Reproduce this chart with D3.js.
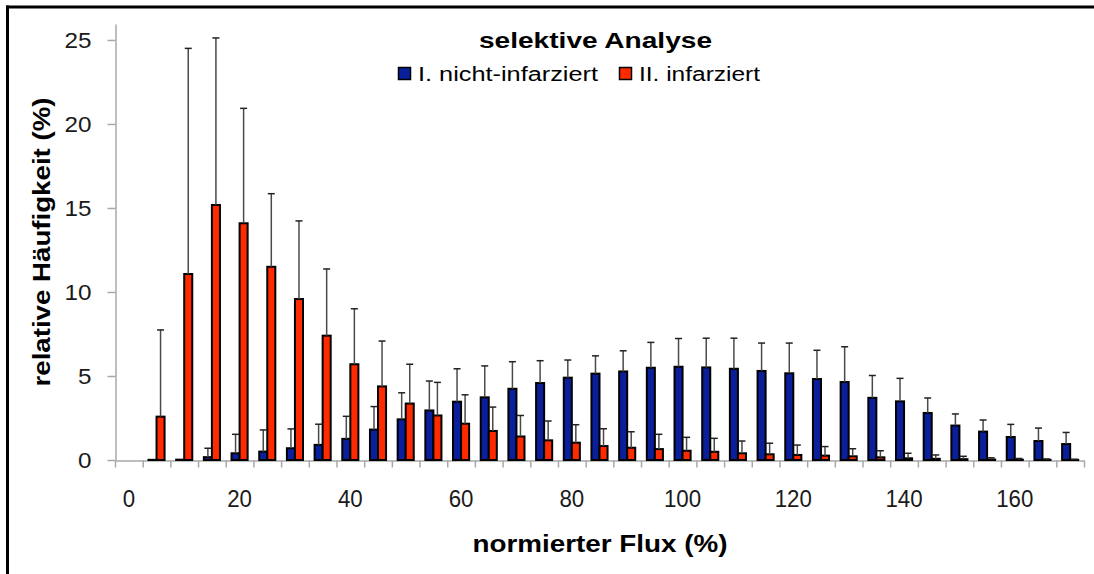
<!DOCTYPE html>
<html>
<head>
<meta charset="utf-8">
<script src="https://cdn.jsdelivr.net/npm/d3@7"></script>
<style>
body { margin: 0; background: #fff; }
text { font-family: "Liberation Sans", Arial, sans-serif; }
</style>
</head>
<body>
<div id="chart"></div>
<script>
// normierter Flux (%) classes
var categories = [0, 5, 10, 15, 20, 25, 30, 35, 40, 45, 50, 55, 60, 65, 70, 75, 80, 85,
    90, 95, 100, 105, 110, 115, 120, 125, 130, 135, 140, 145, 150, 155, 160, 165, 170];

// I. nicht-infarziert
var blueMean = [0, 0.01, 0.02, 0.17, 0.4, 0.5, 0.7, 0.9, 1.26, 1.81, 2.42, 2.95, 3.47, 3.73, 4.24, 4.58, 4.9, 5.14,
    5.27, 5.49, 5.55, 5.51, 5.43, 5.3, 5.16, 4.82, 4.64, 3.7, 3.49, 2.8, 2.05, 1.69, 1.37, 1.13, 0.95];
var blueSD = [0, 0, 0, 0.53, 1.13, 1.29, 1.15, 1.23, 1.34, 1.37, 1.58, 1.75, 1.96, 1.87, 1.61, 1.33, 1.05, 1.06,
    1.23, 1.51, 1.68, 1.74, 1.82, 1.66, 1.8, 1.71, 2.1, 1.33, 1.37, 0.89, 0.69, 0.69, 0.75, 0.77, 0.69];

// II. infarziert
var redMean = [0, 2.58, 11.07, 15.18, 14.09, 11.5, 9.58, 7.4, 5.7, 4.38, 3.36, 2.65, 2.16, 1.73, 1.4, 1.17, 1.03, 0.83,
    0.73, 0.65, 0.55, 0.49, 0.4, 0.34, 0.3, 0.26, 0.22, 0.16, 0.1, 0.07, 0.05, 0.03, 0.02, 0.01, 0.01];
var redSD = [0, 5.16, 13.43, 9.94, 6.84, 4.35, 4.65, 3.97, 3.3, 2.7, 2.34, 1.97, 1.72, 1.42, 1.25, 1.15, 1.07, 1.03,
    0.95, 0.88, 0.8, 0.8, 0.73, 0.66, 0.59, 0.54, 0.45, 0.39, 0.3, 0.23, 0.17, 0.1, 0.07, 0.05, 0.03];

var seriesNames = ["I. nicht-infarziert", "II. infarziert"];
var seriesColors = ["#0a1f9c", "#ff2a00"];
var yTicks = [0, 5, 10, 15, 20, 25];
var xLabels = [0, 20, 40, 60, 80, 100, 120, 140, 160];

var width = 1094, height = 574;
var plot = {left: 115, right: 1084, top: 24, bottom: 460};

var svg = d3.select("#chart")
    .append("svg")
    .attr("width", width)
    .attr("height", height);

// frame (top and left edge only)
svg.append("line")
    .attr("x1", 6).attr("x2", width).attr("y1", 7).attr("y2", 7)
    .attr("stroke", "#000").attr("stroke-width", 3);
svg.append("line")
    .attr("x1", 7.5).attr("x2", 7.5).attr("y1", 5.5).attr("y2", height)
    .attr("stroke", "#000").attr("stroke-width", 3);

var x0 = d3.scaleBand()
    .domain(categories)
    .range([plot.left, plot.right])
    .padding(0);

var x1 = d3.scaleBand()
    .domain([0, 1])
    .range([0, x0.bandwidth()])
    .paddingInner(0)
    .paddingOuter(0.72);

var xEdges = d3.scaleLinear()
    .domain([0, categories.length])
    .range([plot.left, plot.right]);

var y = d3.scaleLinear()
    .domain([0, 25.95])
    .range([plot.bottom, plot.top]);

// y axis
var yAxis = svg.append("g")
    .attr("transform", "translate(" + (plot.left + 0.5) + ",0)")
    .call(d3.axisLeft(y).tickValues(yTicks).tickSize(8).tickSizeOuter(0).tickPadding(16));
yAxis.select(".domain").attr("stroke", "#a8a8a8").attr("stroke-width", 1.5);
yAxis.selectAll(".tick line").attr("stroke", "#a8a8a8").attr("stroke-width", 1.5);
yAxis.selectAll(".tick text")
    .attr("fill", "#1a1a1a")
    .attr("textLength", function(d) { return String(d).length * 13.5; })
    .attr("lengthAdjust", "spacingAndGlyphs")
    .style("font-size", "22px");

// x axis: boundary ticks
var xTickAxis = svg.append("g")
    .attr("transform", "translate(0," + (plot.bottom + 0.5) + ")")
    .call(d3.axisBottom(xEdges).tickValues(d3.range(categories.length + 1)).tickSize(7).tickSizeOuter(0).tickFormat(""));
xTickAxis.select(".domain").attr("stroke", "#a8a8a8").attr("stroke-width", 1.5);
xTickAxis.selectAll(".tick line").attr("stroke", "#a8a8a8").attr("stroke-width", 1.5);

// x axis: labels at every 4th class
var xLabelAxis = svg.append("g")
    .attr("transform", "translate(0," + plot.bottom + ")")
    .call(d3.axisBottom(x0).tickValues(xLabels).tickSize(0).tickPadding(30));
xLabelAxis.select(".domain").remove();
xLabelAxis.selectAll(".tick text")
    .attr("fill", "#1a1a1a")
    .attr("textLength", function(d) { return String(d).length * 12.4; })
    .attr("lengthAdjust", "spacingAndGlyphs")
    .style("font-size", "24px");

// bars
var means = [blueMean, redMean];
var sds = [blueSD, redSD];

var rows = [];
categories.forEach(function(c, i) {
    for (var s = 0; s < 2; s++) {
        rows.push({cat: c, s: s, mean: means[s][i], sd: sds[s][i]});
    }
});

svg.append("g")
    .selectAll("rect")
    .data(rows.filter(function(d) { return d.mean > 0; }))
    .enter()
    .append("rect")
    .attr("x", function(d) { return x0(d.cat) + x1(d.s); })
    .attr("y", function(d) { return y(d.mean); })
    .attr("width", x1.bandwidth())
    .attr("height", function(d) { return y(0) - y(d.mean); })
    .attr("fill", function(d) { return seriesColors[d.s]; })
    .attr("stroke", "#000")
    .attr("stroke-width", 2);

// error bars (upper only)
var errs = svg.append("g")
    .selectAll("g")
    .data(rows.filter(function(d) { return d.sd > 0; }))
    .enter()
    .append("g");

errs.append("line")
    .attr("x1", function(d) { return x0(d.cat) + x1(d.s) + x1.bandwidth() / 2; })
    .attr("x2", function(d) { return x0(d.cat) + x1(d.s) + x1.bandwidth() / 2; })
    .attr("y1", function(d) { return y(d.mean); })
    .attr("y2", function(d) { return y(d.mean + d.sd); })
    .attr("stroke", "#4a4a4a")
    .attr("stroke-width", 1.5);

errs.append("line")
    .attr("x1", function(d) { return x0(d.cat) + x1(d.s) + x1.bandwidth() / 2 - 3.5; })
    .attr("x2", function(d) { return x0(d.cat) + x1(d.s) + x1.bandwidth() / 2 + 3.5; })
    .attr("y1", function(d) { return y(d.mean + d.sd); })
    .attr("y2", function(d) { return y(d.mean + d.sd); })
    .attr("stroke", "#222")
    .attr("stroke-width", 1.5);

// title and legend
svg.append("text")
    .attr("x", 595.5)
    .attr("y", 48)
    .attr("text-anchor", "middle")
    .attr("textLength", 233)
    .attr("lengthAdjust", "spacingAndGlyphs")
    .style("font-size", "22px")
    .style("font-weight", "bold")
    .text("selektive Analyse");

var legendX = [398, 619];
var legendLen = [180, 121];
var legend = svg.append("g")
    .selectAll("g")
    .data(seriesNames)
    .enter()
    .append("g");

legend.append("rect")
    .attr("x", function(d, i) { return legendX[i] + 0.5; })
    .attr("y", 67.5)
    .attr("width", 12)
    .attr("height", 12)
    .attr("fill", function(d, i) { return seriesColors[i]; })
    .attr("stroke", "#000")
    .attr("stroke-width", 1.5);

legend.append("text")
    .attr("x", function(d, i) { return legendX[i] + 20; })
    .attr("y", 81)
    .attr("textLength", function(d, i) { return legendLen[i]; })
    .attr("lengthAdjust", "spacingAndGlyphs")
    .style("font-size", "20px")
    .text(function(d) { return d; });

// axis titles
svg.append("text")
    .attr("transform", "translate(50,242) rotate(-90)")
    .attr("text-anchor", "middle")
    .attr("textLength", 289)
    .attr("lengthAdjust", "spacingAndGlyphs")
    .style("font-size", "23px")
    .style("font-weight", "bold")
    .text("relative Häufigkeit (%)");

svg.append("text")
    .attr("x", 600)
    .attr("y", 552)
    .attr("text-anchor", "middle")
    .attr("textLength", 255)
    .attr("lengthAdjust", "spacingAndGlyphs")
    .style("font-size", "24px")
    .style("font-weight", "bold")
    .text("normierter Flux (%)");
</script>
</body>
</html>
